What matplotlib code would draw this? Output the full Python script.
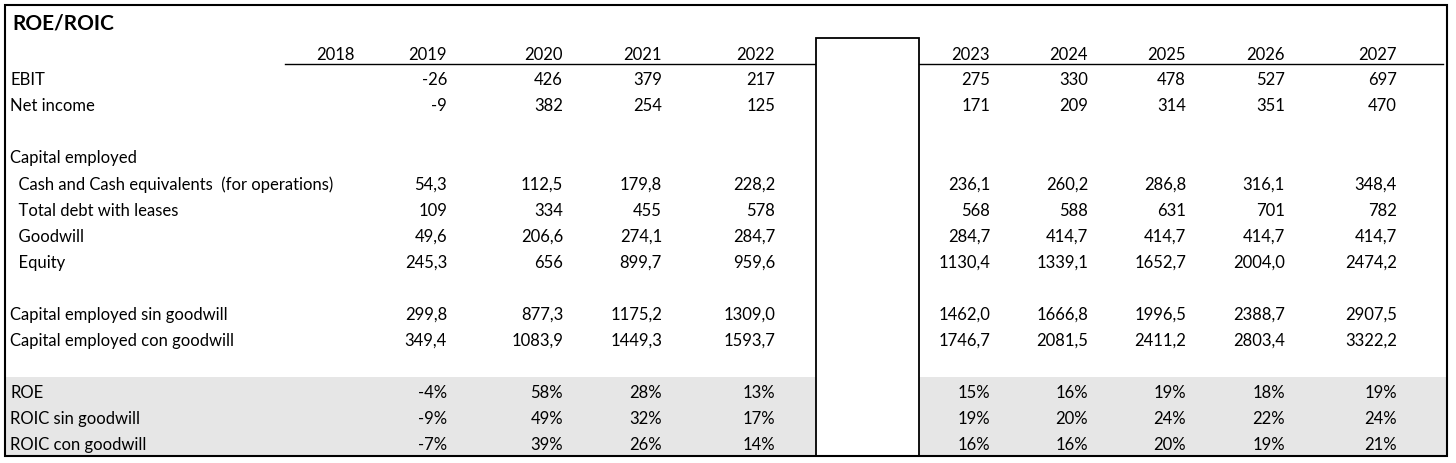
import matplotlib.pyplot as plt
from matplotlib.patches import Rectangle

years_hist = ["2018", "2019", "2020", "2021", "2022"]
years_fcst = ["2023", "2024", "2025", "2026", "2027"]

labels = ["EBIT", "Net income", "", "Capital employed",
          "  Cash and Cash equivalents  (for operations)",
          "  Total debt with leases", "  Goodwill", "  Equity", "",
          "Capital employed sin goodwill", "Capital employed con goodwill", "",
          "ROE", "ROIC sin goodwill", "ROIC con goodwill"]

# values per row: 2019..2022, then 2023..2027 (2018 column is empty)
hist = [["-26", "426", "379", "217"],
        ["-9", "382", "254", "125"],
        None, None,
        ["54,3", "112,5", "179,8", "228,2"],
        ["109", "334", "455", "578"],
        ["49,6", "206,6", "274,1", "284,7"],
        ["245,3", "656", "899,7", "959,6"],
        None,
        ["299,8", "877,3", "1175,2", "1309,0"],
        ["349,4", "1083,9", "1449,3", "1593,7"],
        None,
        ["-4%", "58%", "28%", "13%"],
        ["-9%", "49%", "32%", "17%"],
        ["-7%", "39%", "26%", "14%"]]
fcst = [["275", "330", "478", "527", "697"],
        ["171", "209", "314", "351", "470"],
        None, None,
        ["236,1", "260,2", "286,8", "316,1", "348,4"],
        ["568", "588", "631", "701", "782"],
        ["284,7", "414,7", "414,7", "414,7", "414,7"],
        ["1130,4", "1339,1", "1652,7", "2004,0", "2474,2"],
        None,
        ["1462,0", "1666,8", "1996,5", "2388,7", "2907,5"],
        ["1746,7", "2081,5", "2411,2", "2803,4", "3322,2"],
        None,
        ["15%", "16%", "19%", "18%", "19%"],
        ["19%", "20%", "24%", "22%", "24%"],
        ["16%", "16%", "20%", "19%", "21%"]]

W, H = 1456, 463
fig = plt.figure(figsize=(W / 100, H / 100), dpi=100)
ax = fig.add_axes([0, 0, 1, 1])
ax.set_xlim(0, W)
ax.set_ylim(H, 0)
ax.axis("off")
plt.rcParams["font.family"] = "Lato"
fs = 12

# gray band for ratios
ax.add_patch(Rectangle((5, 377), 1442, 79, color="#e6e6e6", lw=0))
# separator box
ax.add_patch(Rectangle((816, 38), 103, 418, facecolor="white", edgecolor="black", lw=1.3, zorder=3))
# outer border
ax.add_patch(Rectangle((5, 5), 1442, 451, fill=False, edgecolor="black", lw=1.5, zorder=4))
# header underline
ax.plot([285, 1443], [64, 64], color="black", lw=1)

ax.text(12, 24, "ROE/ROIC", fontsize=15, fontweight="bold", va="center")

x_hist = [355, 447, 563, 662, 775]
x_fcst = [990, 1088, 1186, 1285, 1397]
for x, y in zip(x_hist, years_hist):
    ax.text(x, 54.5, y, fontsize=fs, ha="right", va="center")
for x, y in zip(x_fcst, years_fcst):
    ax.text(x, 54.5, y, fontsize=fs, ha="right", va="center")

y0, dy = 80, 26.1
for i, lab in enumerate(labels):
    y = y0 + i * dy
    if lab:
        ax.text(10, y, lab, fontsize=fs, va="center")
    if hist[i]:
        for x, v in zip(x_hist[1:], hist[i]):
            ax.text(x, y, v, fontsize=fs, ha="right", va="center")
        for x, v in zip(x_fcst, fcst[i]):
            ax.text(x, y, v, fontsize=fs, ha="right", va="center")

fig.savefig("out.png", dpi=100, facecolor="white")
